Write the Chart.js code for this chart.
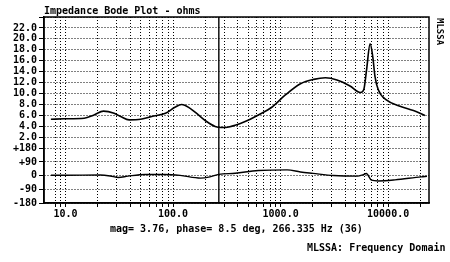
<!DOCTYPE html>
<html>
<head>
<meta charset="utf-8">
<script src="https://cdn.jsdelivr.net/npm/chart.js@4.4.1/dist/chart.umd.min.js"></script>
<style>
  html, body { margin: 0; padding: 0; background: #fff; }
</style>
</head>
<body>
<canvas id="bode" width="450" height="262"></canvas>
<script>
// ---- data ----
const magFreq = [7.3, 9.7, 14.9, 18.4, 22.5, 28.3, 32.6, 39, 50, 66, 85, 104, 120, 144, 172, 205, 246, 280, 330,
  468, 621, 829, 1100, 1530, 2030, 2610, 3340, 4420, 5520, 5930, 6300, 6800, 7200, 7550, 8100, 9700, 12900, 17200, 22000];
const magOhms = [5.3, 5.4, 5.5, 6.1, 6.8, 6.4, 5.8, 5.2, 5.3, 5.9, 6.4, 7.5, 8.0, 7.3, 6.1, 4.9, 4.0, 3.8, 3.9,
  4.9, 6.1, 7.5, 9.7, 11.8, 12.6, 12.9, 12.5, 11.4, 10.2, 10.7, 14.3, 19.1, 16.7, 13.1, 10.7, 8.8, 7.7, 6.9, 6.0];

const phaseFreq = [7.3, 10, 21, 26, 31, 38, 55, 84, 116, 180, 220, 266, 378, 620, 1150, 1530, 2000, 3110,
  5190, 5800, 6270, 7000, 8100, 11600, 20300, 23000];
const phaseDeg = [3, 3, 4, -2, -12, -3, 8, 8, 2, -16, -8, 8, 16, 34, 38, 24, 15, 1,
  -3, 5, 14, -30, -35, -28, -8, -5];

const cursorFreq = 266.335;

const freqGrid = [8, 9, 10, 20, 30, 40, 50, 60, 70, 80, 90, 100, 200, 300, 400, 500, 600, 700, 800, 900,
  1000, 2000, 3000, 4000, 5000, 6000, 7000, 8000, 9000, 10000, 20000];
const freqLabelValues = [10, 100, 1000, 10000];
const freqLabels = ['10.0', '100.0', '1000.0', '10000.0'];

const magTicks = [0, 2, 4, 6, 8, 10, 12, 14, 16, 18, 20, 22, 24];
const magLabels = ['', '2.0', '4.0', '6.0', '8.0', '10.0', '12.0', '14.0', '16.0', '18.0', '20.0', '22.0', ''];
const phaseTicks = [-180, -90, 0, 90, 180];
const phaseLabels = ['-180', '-90', '0', '+90', '+180'];

const titleText = 'Impedance Bode Plot - ohms';
const readoutText = 'mag= 3.76, phase= 8.5 deg, 266.335 Hz (36)';
const footerText = 'MLSSA: Frequency Domain';
const sideText = 'MLSSA';

// magnitude occupies 0..24, phase band sits below it (+180 at mag 0)
const MAG_MAX = 24;
const PHASE_BAND = 10;
const Y_MIN = -PHASE_BAND;

function phaseToY(p) {
  return Y_MIN + (p + 180) / 360 * PHASE_BAND;
}

const FONT = { family: '"DejaVu Sans Mono", "Liberation Mono", monospace', size: 10, weight: 'bold' };

// y tick list: magnitude ticks + phase ticks (mapped), phase +180 shares the mag 0 line
const yTicks = [];
magTicks.forEach((v, i) => yTicks.push({ value: v, label: magLabels[i] }));
phaseTicks.forEach((p, i) => {
  if (p === 180) {
    yTicks[0].label = phaseLabels[i];
  } else {
    yTicks.push({ value: phaseToY(p), label: phaseLabels[i] });
  }
});
yTicks.sort((a, b) => a.value - b.value);

function yLabel(v) {
  const t = yTicks.find(t => Math.abs(t.value - v) < 1e-6);
  return t ? t.label : '';
}

function xLabel(v) {
  const i = freqLabelValues.indexOf(v);
  return i >= 0 ? freqLabels[i] : '';
}

const magData = magFreq.map((f, i) => ({ x: f, y: magOhms[i] }));
const phaseData = phaseFreq.map((f, i) => ({ x: f, y: phaseToY(phaseDeg[i]) }));
const cursorData = [{ x: cursorFreq, y: Y_MIN }, { x: cursorFreq, y: MAG_MAX }];

// frame + texts around the plot
const decorPlugin = {
  id: 'decor',
  afterDraw(chart) {
    const { ctx, chartArea: a } = chart;
    ctx.save();
    ctx.strokeStyle = '#000';
    ctx.lineWidth = 1.5;
    ctx.strokeRect(a.left, a.top, a.right - a.left, a.bottom - a.top);

    ctx.fillStyle = '#000';
    ctx.font = 'bold 10px "DejaVu Sans Mono", "Liberation Mono", monospace';
    ctx.textBaseline = 'middle';
    ctx.textAlign = 'left';
    ctx.fillText(titleText, a.left, 11);
    ctx.fillText(readoutText, 110, 229);
    ctx.fillText(footerText, 307, 248);

    ctx.translate(439, 18);
    ctx.rotate(Math.PI / 2);
    ctx.font = 'bold 9px "DejaVu Sans Mono", "Liberation Mono", monospace';
    ctx.fillText(sideText, 0, 0);
    ctx.restore();
  }
};

const ctx = document.getElementById('bode').getContext('2d');
const bode = new Chart(ctx, {
  type: 'line',
  data: {
    datasets: [
      {
        label: 'Magnitude',
        data: magData,
        borderColor: '#000',
        borderWidth: 1.6,
        pointRadius: 0,
        cubicInterpolationMode: 'monotone'
      },
      {
        label: 'Phase',
        data: phaseData,
        borderColor: '#000',
        borderWidth: 1.4,
        pointRadius: 0,
        cubicInterpolationMode: 'monotone'
      },
      {
        label: 'Cursor',
        data: cursorData,
        borderColor: '#000',
        borderWidth: 1.4,
        pointRadius: 0
      }
    ]
  },
  options: {
    responsive: false,
    animation: false,
    devicePixelRatio: 1,
    layout: { padding: { top: 17, right: 21, left: 0, bottom: 0 } },
    plugins: {
      legend: { display: false },
      tooltip: { enabled: false },
      title: { display: false }
    },
    scales: {
      x: {
        type: 'logarithmic',
        min: 6.3,
        max: 24000,
        afterBuildTicks: s => { s.ticks = freqGrid.map(v => ({ value: v })); },
        afterFit: s => { s.height = 59; },
        ticks: {
          autoSkip: false,
          maxRotation: 0,
          padding: 1,
          color: '#000',
          font: FONT,
          callback: v => xLabel(v)
        },
        grid: {
          color: '#000',
          lineWidth: 1,
          borderDash: [1, 2],
          tickLength: 4,
          tickColor: '#000',
          tickBorderDash: []
        },
        border: { display: true, color: '#000', width: 1.5, dash: [1, 2] }
      },
      y: {
        type: 'linear',
        min: Y_MIN,
        max: MAG_MAX,
        afterBuildTicks: s => { s.ticks = yTicks.map(t => ({ value: t.value })); },
        afterFit: s => { s.width = 44; },
        ticks: {
          autoSkip: false,
          padding: 2,
          color: '#000',
          font: FONT,
          callback: v => yLabel(v)
        },
        grid: {
          color: '#000',
          lineWidth: 1,
          borderDash: [1, 2],
          tickLength: 5,
          tickColor: '#000',
          tickBorderDash: []
        },
        border: { display: true, color: '#000', width: 1.5, dash: [1, 2] }
      }
    }
  },
  plugins: [decorPlugin]
});
</script>
</body>
</html>
